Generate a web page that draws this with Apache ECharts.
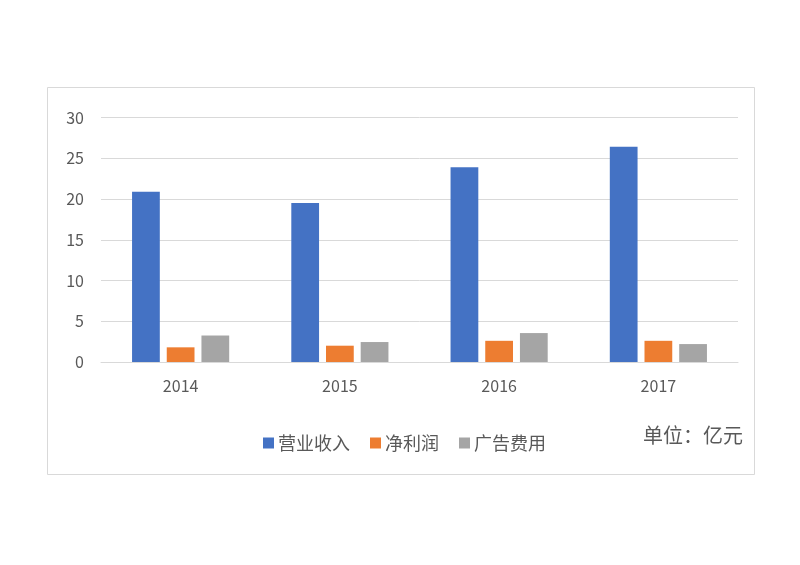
<!DOCTYPE html>
<html>
<head>
<meta charset="utf-8">
<script src="https://cdn.jsdelivr.net/npm/echarts@6/dist/echarts.min.js"></script>
<style>
html,body{margin:0;padding:0;background:#fff;}
#main{width:800px;height:565px;}
</style>
</head>
<body>
<div id="main"></div>
<script>
var years = ['2014', '2015', '2016', '2017'];
var seriesNames = ['营业收入', '净利润', '广告费用'];
var revenue = [20.9, 19.5, 23.9, 26.4];
var netProfit = [1.8, 2.0, 2.6, 2.6];
var adCost = [3.25, 2.45, 3.55, 2.2];
var yTicks = [0, 5, 10, 15, 20, 25, 30];
var unitText = '单位：亿元';

var colors = ['#4472C4', '#ED7D31', '#A5A5A5'];
var font = '"Noto Sans CJK SC", "Noto Sans", sans-serif';

var chart = echarts.init(document.getElementById('main'));
chart.setOption({
  animation: false,
  backgroundColor: '#fff',
  color: colors,
  textStyle: { fontFamily: font },
  graphic: [
    {
      type: 'rect',
      shape: { x: 47.5, y: 87.5, width: 707, height: 387 },
      style: { fill: 'none', stroke: '#d9d9d9', lineWidth: 1 },
      silent: true
    },
    {
      type: 'text',
      right: 57,
      top: 425,
      style: { text: unitText, fill: '#595959', font: '20px ' + font }
    }
  ],
  grid: { left: 101, right: 62, top: 117.5, bottom: 203, containLabel: false },
  legend: {
    left: 258,
    top: 429,
    icon: 'rect',
    itemWidth: 11,
    itemHeight: 11,
    itemGap: 20,
    textStyle: { fontSize: 18, color: '#595959', fontFamily: font, padding: [0, 0, 0, -1] },
    data: seriesNames
  },
  xAxis: {
    type: 'category',
    data: years,
    axisLine: { lineStyle: { color: '#d9d9d9', width: 1 } },
    axisTick: { show: false },
    axisLabel: { color: '#595959', fontSize: 16, margin: 16 }
  },
  yAxis: {
    type: 'value',
    min: yTicks[0],
    max: yTicks[yTicks.length - 1],
    interval: 5,
    axisLine: { show: false },
    axisTick: { show: false },
    axisLabel: { color: '#595959', fontSize: 16, margin: 17 },
    splitLine: { lineStyle: { color: '#d9d9d9', width: 1 } }
  },
  series: [
    { name: seriesNames[0], type: 'bar', data: revenue, barGap: '25%', barCategoryGap: '39%' },
    { name: seriesNames[1], type: 'bar', data: netProfit, barGap: '25%', barCategoryGap: '39%' },
    { name: seriesNames[2], type: 'bar', data: adCost, barGap: '25%', barCategoryGap: '39%' }
  ]
});
</script>
</body>
</html>
